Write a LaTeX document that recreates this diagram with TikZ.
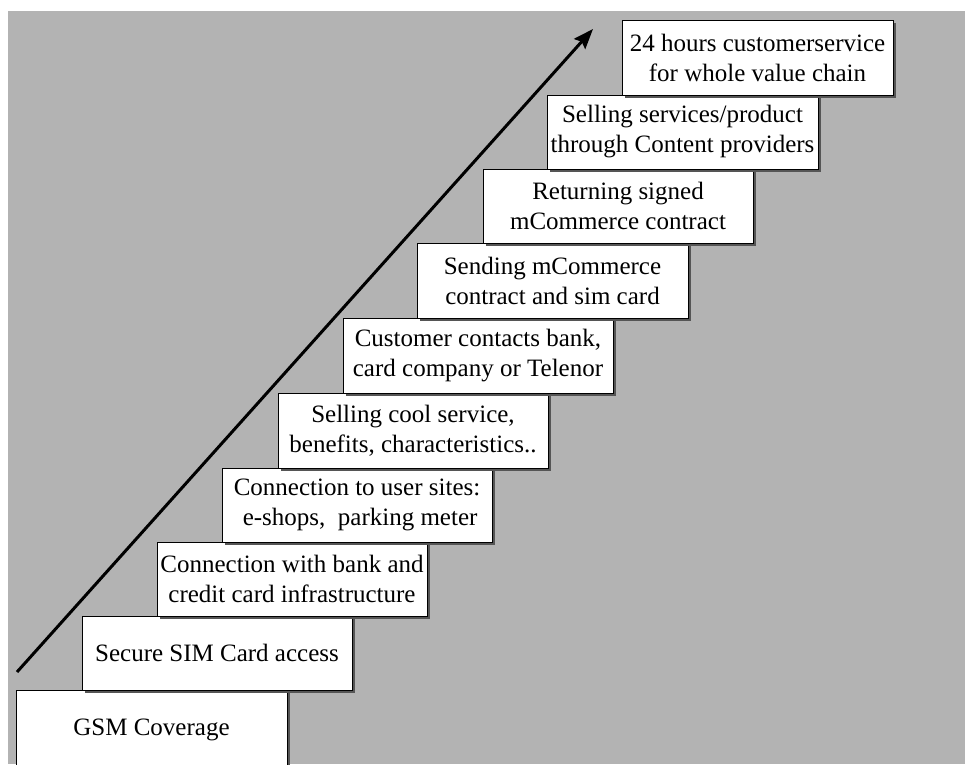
\documentclass[tikz,border=0pt]{standalone}
\usepackage{fontspec}
\setmainfont{Liberation Serif}
\usetikzlibrary{shadows,arrows.meta}
\definecolor{bggray}{RGB}{179,179,179}
\definecolor{shadowgray}{RGB}{85,85,85}
\tikzset{
  stepbox/.style={draw=black, line width=1pt, fill=white, inner sep=0pt,
    align=center, font=\fontsize{25}{30}\selectfont,
    drop shadow={shadow xshift=3pt, shadow yshift=-3pt, fill=shadowgray, opacity=1}},
  progress/.style={line width=3pt, -{Stealth[length=20pt,width=15pt,inset=3pt]}}
}
\begin{document}
\begin{tikzpicture}[x=1pt,y=-1pt]
\useasboundingbox (0,0) rectangle (965,764);
\clip (0,0) rectangle (965,764);
\fill[white] (0,0) rectangle (965,764);
\fill[bggray] (8,11) rectangle (965,764);

% staircase of steps, drawn bottom to top so each shadow falls on the step below
\node[stepbox, minimum width=271pt, minimum height=80pt] (s0) at (151.5,730) {GSM Coverage};
\node[stepbox, minimum width=270pt, minimum height=74pt] (s1) at (217,653) {Secure SIM Card access};
\node[stepbox, minimum width=270pt, minimum height=74pt] (s2) at (292,579) {Connection with bank and\\credit card infrastructure};
\node[stepbox, minimum width=270pt, minimum height=74pt] (s3) at (357,505) {Connection to user sites:\\\ e-shops,\ \ parking meter};
\node[stepbox, minimum width=270pt, minimum height=75pt] (s4) at (413,430.5) {Selling cool service,\\benefits, characteristics..};
\node[stepbox, minimum width=270pt, minimum height=75pt] (s5) at (478,355.5) {Customer contacts bank,\\card company or Telenor};
\node[stepbox, minimum width=271pt, minimum height=75pt] (s6) at (552.5,280.5) {Sending mCommerce\\contract and sim card};
\node[stepbox, minimum width=270pt, minimum height=74pt] (s7) at (618,206) {Returning signed\\mCommerce contract};
\node[stepbox, minimum width=271pt, minimum height=74pt] (s8) at (682.5,132) {Selling services/product\\through Content providers};
\node[stepbox, minimum width=271pt, minimum height=75pt] (s9) at (757.5,57.5) {24 hours customerservice\\for whole value chain};

% rising arrow along the staircase
\coordinate (arrowstart) at (17,672);
\coordinate (arrowtip) at (593,29);
\draw[progress] (arrowstart) -- (arrowtip);
\end{tikzpicture}
\end{document}
